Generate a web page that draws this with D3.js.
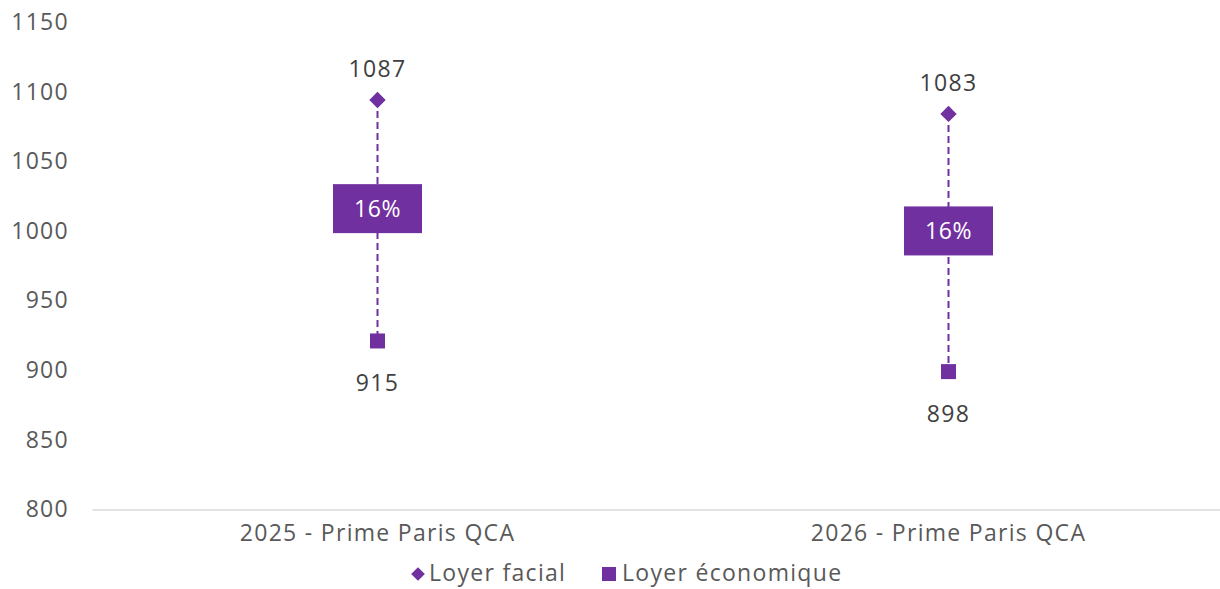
<!DOCTYPE html>
<html>
<head>
<meta charset="utf-8">
<script src="https://cdn.jsdelivr.net/npm/d3@7"></script>
<style>
  html, body { margin: 0; padding: 0; background: #fff; }
  svg { display: block; font-family: "Open Sans", "Noto Sans", sans-serif; }
</style>
</head>
<body>
<svg id="chart" width="1220" height="589"></svg>
<script>
// ---- data ----
const categories = ["2025 - Prime Paris QCA", "2026 - Prime Paris QCA"];
const loyerFacial = [1094, 1084];          // plotted position of diamond
const loyerEconomique = [921, 899];        // plotted position of square
const loyerFacialLabels = ["1087", "1083"];
const loyerEconomiqueLabels = ["915", "898"];
const gapLabels = ["16%", "16%"];
const gapPosition = [1016, 1000];          // centre of the percentage box
const yTicks = [800, 850, 900, 950, 1000, 1050, 1100, 1150];
const seriesNames = ["Loyer facial", "Loyer économique"];

const purple = "#7030A0";
const FS = 23, LS = 1.3;
const svg = d3.select("#chart");

const x = d3.scaleBand().domain(categories).range([92, 1234]);
const y = d3.scaleLinear().domain([800, 1150]).range([509.5, 22]);
const cx = c => x(c) + x.bandwidth() / 2;

// y axis labels (no line)
const yAxis = d3.axisLeft(y).tickValues(yTicks).tickFormat(d3.format("d")).tickSize(0).tickPadding(0);
const gy = svg.append("g").attr("transform", "translate(69,0)").call(yAxis);
gy.select(".domain").remove();
gy.selectAll("text").attr("font-size", FS).attr("fill", "#595959")
  .attr("letter-spacing", LS).attr("font-family", "\"Open Sans\", sans-serif");

// x axis
const xAxis = d3.axisBottom(x).tickSize(0).tickPadding(15);
const gx = svg.append("g").attr("transform", `translate(0,${y(800)})`).call(xAxis);
gx.select(".domain").attr("stroke", "#d9d9d9").attr("stroke-width", 1.5);
gx.selectAll("text").attr("font-size", FS).attr("fill", "#595959")
  .attr("letter-spacing", LS).attr("font-family", "\"Open Sans\", sans-serif");

const data = categories.map((c, i) => ({
  c, hi: loyerFacial[i], lo: loyerEconomique[i],
  hiLab: loyerFacialLabels[i], loLab: loyerEconomiqueLabels[i],
  gap: gapLabels[i], gapPos: gapPosition[i]
}));

// dashed connectors
svg.append("g").selectAll("line").data(data).join("line")
  .attr("x1", d => cx(d.c)).attr("x2", d => cx(d.c))
  .attr("y1", d => y(d.hi)).attr("y2", d => y(d.lo))
  .attr("stroke", purple).attr("stroke-width", 2)
  .attr("stroke-dasharray", "7,4");

// percentage boxes
const boxW = 89, boxH = 49;
const gb = svg.append("g").selectAll("g").data(data).join("g")
  .attr("transform", d => `translate(${cx(d.c)},${y(d.gapPos)})`);
gb.append("rect").attr("x", -boxW / 2).attr("y", -boxH / 2)
  .attr("width", boxW).attr("height", boxH).attr("fill", purple);
gb.append("text").attr("text-anchor", "middle").attr("dy", "0.35em")
  .attr("font-size", FS).attr("letter-spacing", 0.6).attr("fill", "#fff").text(d => d.gap);

// diamonds
const diamond = d3.symbol().type(d3.symbolDiamond2).size(170);
svg.append("g").selectAll("path").data(data).join("path")
  .attr("d", diamond)
  .attr("transform", d => `translate(${cx(d.c)},${y(d.hi)})`)
  .attr("fill", purple);

// squares
const sq = 15;
svg.append("g").selectAll("rect").data(data).join("rect")
  .attr("x", d => cx(d.c) - sq / 2).attr("y", d => y(d.lo) - sq / 2)
  .attr("width", sq).attr("height", sq).attr("fill", purple);

// value labels
svg.append("g").selectAll("text").data(data).join("text")
  .attr("x", d => cx(d.c)).attr("y", d => y(d.hi) - 31).attr("dy", "0.35em")
  .attr("text-anchor", "middle").attr("font-size", FS).attr("letter-spacing", LS)
  .attr("fill", "#404040").text(d => d.hiLab);
svg.append("g").selectAll("text").data(data).join("text")
  .attr("x", d => cx(d.c)).attr("y", d => y(d.lo) + 42).attr("dy", "0.35em")
  .attr("text-anchor", "middle").attr("font-size", FS).attr("letter-spacing", LS)
  .attr("fill", "#404040").text(d => d.loLab);

// legend
const ly = 573;
const lg = svg.append("g");
lg.append("path").attr("d", d3.symbol().type(d3.symbolDiamond2).size(120))
  .attr("transform", `translate(418,${ly + 1})`).attr("fill", purple);
lg.append("text").attr("x", 429).attr("y", ly).attr("dy", "0.35em")
  .attr("font-size", FS).attr("letter-spacing", LS).attr("fill", "#595959").text(seriesNames[0]);
lg.append("rect").attr("x", 602).attr("y", ly - 6).attr("width", 14).attr("height", 14)
  .attr("fill", purple);
lg.append("text").attr("x", 622).attr("y", ly).attr("dy", "0.35em")
  .attr("font-size", FS).attr("letter-spacing", LS).attr("fill", "#595959").text(seriesNames[1]);
</script>
</body>
</html>
